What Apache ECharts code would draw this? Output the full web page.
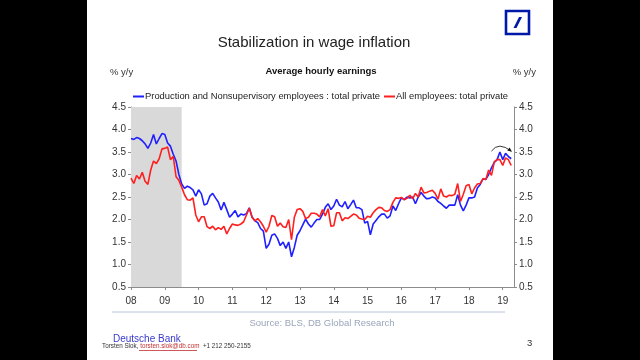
<!DOCTYPE html>
<html>
<head>
<meta charset="utf-8">
<script src="https://cdn.jsdelivr.net/npm/echarts@6/dist/echarts.min.js"></script>
<style>
html,body{margin:0;padding:0;background:#000;}
#slide{position:absolute;left:87px;top:0;width:466px;height:360px;background:#fff;}
#c{position:absolute;left:0;top:0;width:640px;height:360px;}
</style>
</head>
<body>
<div id="slide"></div>
<div id="c"></div>
<script>
// Months Jan 2008 .. May 2019 (axis runs to May 2019)
const startYear = 2008;
const nMonths = 137;
const months = [];
for (let i = 0; i < nMonths; i++) {
  const y = startYear + Math.floor(i / 12), m = (i % 12) + 1;
  months.push(y + '-' + (m < 10 ? '0' + m : m));
}
const seriesNames = ['Production and Nonsupervisory employees : total private', 'All employees: total private'];
// Production and nonsupervisory, % y/y, Jan 2008 .. Apr 2019
const prodNonsup = [
3.80,3.78,3.82,3.80,3.75,3.68,3.58,3.70,3.89,3.68,3.80,3.91,
3.89,3.70,3.63,3.45,3.30,3.00,2.79,2.69,2.74,2.71,2.66,2.52,
2.66,2.57,2.32,2.35,2.52,2.58,2.48,2.39,2.21,2.38,2.22,2.05,
2.12,2.20,2.06,2.12,2.10,2.13,2.26,2.05,1.97,1.93,1.80,1.74,
1.36,1.45,1.65,1.68,1.58,1.42,1.50,1.36,1.50,1.17,1.38,1.65,
1.75,1.88,2.01,1.90,1.83,1.92,2.00,2.00,2.12,2.27,2.35,2.22,
2.30,2.45,2.32,2.28,2.40,2.24,2.33,2.43,2.26,2.26,2.22,1.92,
1.96,1.66,1.90,1.98,2.06,2.12,2.12,2.03,2.08,2.30,2.20,2.35,
2.48,2.44,2.50,2.48,2.50,2.35,2.50,2.60,2.52,2.46,2.47,2.50,
2.48,2.40,2.36,2.30,2.25,2.32,2.32,2.32,2.55,2.32,2.19,2.32,
2.48,2.48,2.50,2.70,2.78,2.90,2.89,3.00,3.15,3.27,3.33,3.50,
3.33,3.47,3.40,3.35
];
// All employees, % y/y, Jan 2008 .. Apr 2019
const allEmp = [
2.92,2.80,2.98,2.90,3.05,2.85,2.78,3.10,3.30,3.24,3.35,3.57,
3.58,3.61,3.33,3.40,2.95,2.87,2.72,2.55,2.44,2.43,2.48,2.10,
1.95,2.06,2.06,1.84,1.80,1.85,1.77,1.82,1.78,1.85,1.68,1.80,
1.90,1.88,1.87,1.90,1.95,2.10,2.25,2.05,1.97,2.02,1.95,1.85,
1.72,1.85,2.09,2.06,1.85,1.92,1.84,1.82,2.00,1.55,2.05,2.22,
2.24,2.18,2.02,2.05,2.14,2.14,2.12,2.06,2.22,2.08,2.24,1.85,
1.86,2.15,2.15,1.97,2.04,2.02,2.07,2.12,2.10,2.03,2.01,2.00,
2.07,2.05,2.15,2.22,2.27,2.26,2.20,2.18,2.22,2.38,2.48,2.47,
2.49,2.44,2.47,2.54,2.46,2.58,2.50,2.72,2.59,2.60,2.63,2.65,
2.58,2.45,2.68,2.52,2.50,2.54,2.53,2.56,2.80,2.40,2.56,2.75,
2.78,2.57,2.70,2.79,2.80,2.91,2.89,3.10,2.98,3.28,3.33,3.33,
3.20,3.37,3.33,3.20
];
const recession = ['2008-01', '2009-07'];
const yTicks = {min: 0.5, max: 4.5, interval: 0.5};
// Annotation arc over the latest readings: [month, value] points
const arcPoints = [['2018-09', 3.52], ['2018-12', 3.63], ['2019-04', 3.52]];

const FONT = '"Liberation Sans", Arial, sans-serif';
const chart = echarts.init(document.getElementById('c'));
const yAxisCommon = {
  type: 'value', min: yTicks.min, max: yTicks.max, interval: yTicks.interval,
  splitLine: {show: false},
  axisLine: {show: true, lineStyle: {color: '#8c8c8c', width: 1}},
  axisTick: {show: true, length: 3, lineStyle: {color: '#8c8c8c'}},
  axisLabel: {fontFamily: FONT, fontSize: 10, color: '#333', margin: 5, formatter: v => v.toFixed(1)}
};
chart.setOption({
  animation: false,
  grid: {left: 131, right: 126, top: 107, bottom: 73},
  legend: {
    left: 128, top: 87, itemWidth: 11, itemHeight: 2, itemGap: 4, icon: 'rect',
    textStyle: {fontFamily: FONT, fontSize: 9.4, color: '#222', padding: [0, 0, 0, -4]},
    data: seriesNames
  },
  xAxis: {
    type: 'category', data: months, boundaryGap: false,
    axisLine: {lineStyle: {color: '#8c8c8c'}},
    axisTick: {interval: (i) => i % 12 === 0, length: 3, lineStyle: {color: '#8c8c8c'}},
    axisLabel: {interval: (i) => i % 12 === 0, formatter: v => v.slice(2, 4),
      fontFamily: FONT, fontSize: 10, color: '#333', margin: 9}
  },
  yAxis: [
    Object.assign({position: 'left'}, yAxisCommon),
    Object.assign({position: 'right'}, yAxisCommon)
  ],
  series: [
    {
      name: seriesNames[0], type: 'line', data: prodNonsup, showSymbol: false,
      lineStyle: {color: '#1f1fff', width: 1.6}, itemStyle: {color: '#1f1fff'}, z: 3,
      markArea: {silent: true, itemStyle: {color: '#d9d9d9'},
        data: [[{xAxis: recession[0]}, {xAxis: recession[1]}]]}
    },
    {
      name: seriesNames[1], type: 'line', data: allEmp, showSymbol: false,
      lineStyle: {color: '#ff1f1f', width: 1.6}, itemStyle: {color: '#ff1f1f'}, z: 4
    }
  ]
});

const p = arcPoints.map(a => chart.convertToPixel({xAxisIndex: 0, yAxisIndex: 0}, a));
const cp = [2 * p[1][0] - (p[0][0] + p[2][0]) / 2, 2 * p[1][1] - (p[0][1] + p[2][1]) / 2];
const ang = Math.atan2(p[2][1] - cp[1], p[2][0] - cp[0]);
const ah = 4;
const arrow = [
  [p[2][0] + Math.cos(ang) * 1, p[2][1] + Math.sin(ang) * 1],
  [p[2][0] - Math.cos(ang - 0.5) * ah, p[2][1] - Math.sin(ang - 0.5) * ah],
  [p[2][0] - Math.cos(ang + 0.5) * ah, p[2][1] - Math.sin(ang + 0.5) * ah]
];

chart.setOption({
  graphic: [
    {type: 'text', x: 314, y: 35, style: {text: 'Stabilization in wage inflation', fontFamily: FONT, fontSize: 15, fill: '#222', align: 'center'}},
    {type: 'text', x: 321, y: 66, style: {text: 'Average hourly earnings', fontFamily: FONT, fontSize: 9.5, fontWeight: 'bold', fill: '#111', align: 'center'}},
    {type: 'text', x: 110, y: 67, style: {text: '% y/y', fontFamily: FONT, fontSize: 9.5, fill: '#333'}},
    {type: 'text', x: 536, y: 67, style: {text: '% y/y', fontFamily: FONT, fontSize: 9.5, fill: '#333', align: 'right'}},
    // Deutsche Bank logo
    {type: 'rect', shape: {x: 506, y: 11, width: 23, height: 23}, style: {fill: 'none', stroke: '#0018a8', lineWidth: 2.6}},
    {type: 'polygon', shape: {points: [[513.5, 28], [516.5, 28], [522, 17], [519, 17]]}, style: {fill: '#0018a8'}},
    // annotation arc
    {type: 'bezierCurve', shape: {x1: p[0][0], y1: p[0][1], x2: p[2][0], y2: p[2][1], cpx1: cp[0], cpy1: cp[1]},
      style: {stroke: '#222', lineWidth: 0.9, fill: 'none'}, z: 10},
    {type: 'polygon', shape: {points: arrow}, style: {fill: '#111'}, z: 10},
    // footer
    {type: 'line', shape: {x1: 112, y1: 312, x2: 505, y2: 312}, style: {stroke: '#b8c4d6', lineWidth: 1}},
    {type: 'text', x: 322, y: 318, style: {text: 'Source: BLS, DB Global Research', fontFamily: FONT, fontSize: 9.5, fill: '#9aa6ba', align: 'center'}},
    {type: 'text', x: 113, y: 334, style: {text: 'Deutsche Bank', fontFamily: FONT, fontSize: 10, fill: '#3a3acc'}},
    {type: 'text', x: 102, y: 343, style: {
      text: '{a|Torsten Slok, }{b|torsten.slok@db.com}{a|  +1 212 250-2155}',
      rich: {a: {fontFamily: FONT, fontSize: 6.3, fill: '#333'}, b: {fontFamily: FONT, fontSize: 6.3, fill: '#c03030'}}
    }},
    {type: 'line', shape: {x1: 139, y1: 350.5, x2: 197, y2: 350.5}, style: {stroke: '#c03030', lineWidth: 0.8}},
    {type: 'text', x: 527, y: 338, style: {text: '3', fontFamily: FONT, fontSize: 9.5, fill: '#333'}}
  ]
});
</script>
</body>
</html>
